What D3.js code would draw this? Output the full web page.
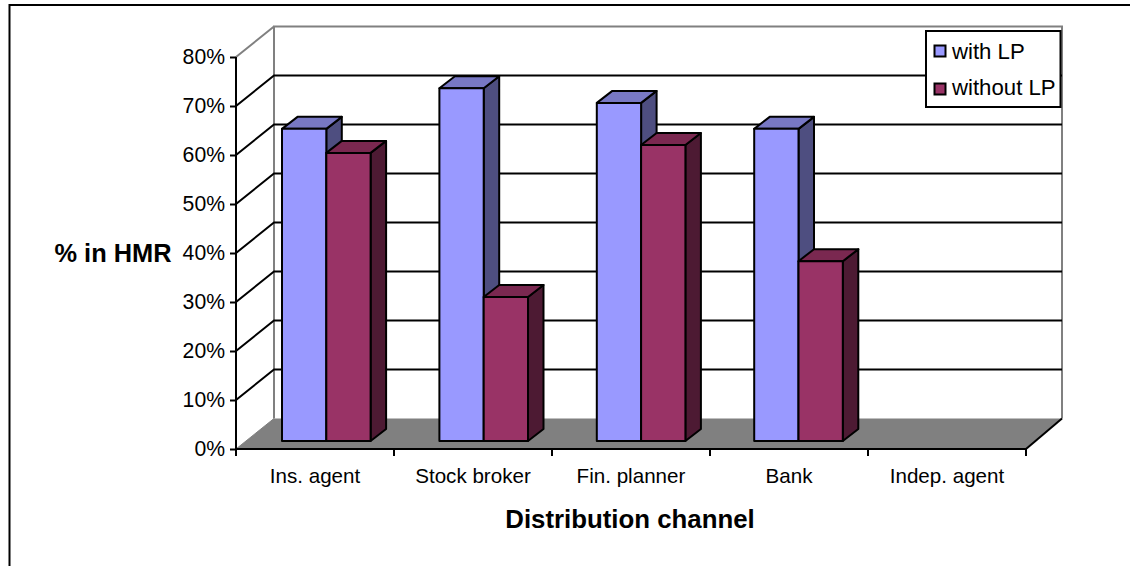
<!DOCTYPE html>
<html>
<head>
<meta charset="utf-8">
<script src="https://cdn.jsdelivr.net/npm/d3@7/dist/d3.min.js"></script>
<style>
html,body{margin:0;padding:0;background:#fff;}
svg{display:block;}
text{font-family:"Liberation Sans",Arial,sans-serif;fill:#000;}
</style>
</head>
<body>
<svg id="chart" width="1130" height="566"></svg>
<script>
const categories = ["Ins. agent","Stock broker","Fin. planner","Bank","Indep. agent"];
const seriesNames = ["with LP","without LP"];
const withLP = [0.637,0.72,0.69,0.637,null];
const withoutLP = [0.588,0.294,0.604,0.367,null];
const yTicks = [0,0.1,0.2,0.3,0.4,0.5,0.6,0.7,0.8];

const colours = [
  {front:"#9999ff",top:"#7878c4",side:"#4e4e80"},
  {front:"#993366",top:"#7a2850",side:"#4d1a33"}
];

const svg = d3.select("#chart");

// frame around the chart area: only the top and left edges are visible
svg.append("path").attr("d","M9.5,566V5H1130").attr("fill","none").attr("stroke","#000").attr("stroke-width",2);

const x = d3.scaleBand().domain(categories).range([236,1026]);
const y = d3.scaleLinear().domain([0,0.8]).range([449,57]);
const DY = -30.5;
// back wall is slightly narrower than the front edge
const xBack = d3.scaleLinear().domain(x.range()).range([274,1062]);

const x0 = x.range()[0], x1 = x.range()[1], y0 = y(0), yMax = y(0.8);
const back = v => v + DY;
const poly = pts => "M" + pts.map(p => p.join(",")).join("L") + "Z";

// floor
svg.append("path")
  .attr("d",poly([[x0,y0],[x1,y0],[xBack(x1),back(y0)],[xBack(x0),back(y0)]]))
  .attr("fill","#808080");

// back and side walls
svg.append("path")
  .attr("d",`M${xBack(x0)},${back(y0)}V${back(yMax)}H${xBack(x1)}V${back(y0)}`)
  .attr("fill","none").attr("stroke","#808080").attr("stroke-width",2);
svg.append("line")
  .attr("x1",x0).attr("y1",yMax).attr("x2",xBack(x0)).attr("y2",back(yMax))
  .attr("stroke","#808080").attr("stroke-width",2);
svg.append("line")
  .attr("x1",x0).attr("y1",y0).attr("x2",xBack(x0)).attr("y2",back(y0))
  .attr("stroke","#808080").attr("stroke-width",1);

// gridlines on the side wall and back wall
const grid = svg.append("g").attr("stroke","#000").attr("stroke-width",2).attr("fill","none");
yTicks.filter(t => t>0 && t<0.8).forEach(t => {
  grid.append("path").attr("d",`M${x0},${y(t)}L${xBack(x0)},${back(y(t))}H${xBack(x1)}`);
});
// right floor edge
svg.append("line")
  .attr("x1",x1).attr("y1",y0).attr("x2",xBack(x1)).attr("y2",back(y0))
  .attr("stroke","#000").attr("stroke-width",2);

// bars sit on the floor, set back from the front edge
const barGroups = d3.scaleBand().domain(categories).range([282,282+5*157.4]);
const barW = 44.3, baseRise = 8, depthX = 15.5, depthY = 12;
const bars = svg.append("g").attr("stroke","#000").attr("stroke-width",2).attr("stroke-linejoin","round");
function drawBar(xl,val,c){
  const xr = xl+barW, yb = y(0)-baseRise, yt = y(val)-baseRise;
  bars.append("path").attr("fill",c.side)
    .attr("d",poly([[xr,yb],[xr+depthX,yb-depthY],[xr+depthX,yt-depthY],[xr,yt]]));
  bars.append("path").attr("fill",c.top)
    .attr("d",poly([[xl,yt],[xr,yt],[xr+depthX,yt-depthY],[xl+depthX,yt-depthY]]));
  bars.append("path").attr("fill",c.front)
    .attr("d",poly([[xl,yb],[xr,yb],[xr,yt],[xl,yt]]));
}
categories.forEach((cat,i) => {
  const left = barGroups(cat);
  if(withLP[i]!=null) drawBar(left,withLP[i],colours[0]);
  if(withoutLP[i]!=null) drawBar(left+barW,withoutLP[i],colours[1]);
});

// value axis
const yAxis = d3.axisLeft(y).tickValues(yTicks).tickFormat(d3.format(".0%")).tickSize(6).tickPadding(5);
const gy = svg.append("g").attr("transform",`translate(${x0},0)`).call(yAxis);
gy.selectAll("path,line").attr("stroke","#000").attr("stroke-width",2);
gy.select(".domain").attr("d",`M0,${y(0.8)}V${y(0)}`);
gy.selectAll("text").attr("font-size",21.2).style("font-family",'"Liberation Sans",Arial,sans-serif').attr("fill","#000");

// category axis with ticks between the groups
svg.append("line").attr("x1",x0-1).attr("x2",x1+1).attr("y1",y0).attr("y2",y0).attr("stroke","#000").attr("stroke-width",2);
const edges = categories.map(c => x(c)).concat([x1]);
svg.append("g").selectAll("line").data(edges).join("line")
  .attr("x1",d=>d).attr("x2",d=>d).attr("y1",y0).attr("y2",y0+7)
  .attr("stroke","#000").attr("stroke-width",2);
svg.append("g").selectAll("text").data(categories).join("text")
  .attr("x",c=>x(c)+x.bandwidth()/2).attr("y",y0+34)
  .attr("text-anchor","middle").attr("font-size",20.6).text(c=>c);

// axis titles
svg.append("text").attr("x",630).attr("y",528).attr("text-anchor","middle")
  .attr("font-size",25.8).attr("font-weight","bold").text("Distribution channel");
svg.append("text").attr("x",113).attr("y",262).attr("text-anchor","middle")
  .attr("font-size",25.4).attr("font-weight","bold").text("% in HMR");

// legend
const lg = svg.append("g");
lg.append("rect").attr("x",926).attr("y",31).attr("width",134.5).attr("height",76)
  .attr("fill","#fff").attr("stroke","#000").attr("stroke-width",2);
seriesNames.forEach((name,i) => {
  const ly = 51 + i*38;
  lg.append("rect").attr("x",934.5).attr("y",ly-5.5).attr("width",11).attr("height",11)
    .attr("fill",colours[i].front).attr("stroke","#000").attr("stroke-width",2);
  lg.append("text").attr("x",952).attr("y",ly+7.5-i*1.7).attr("font-size",22.2).text(name);
});
</script>
</body>
</html>
